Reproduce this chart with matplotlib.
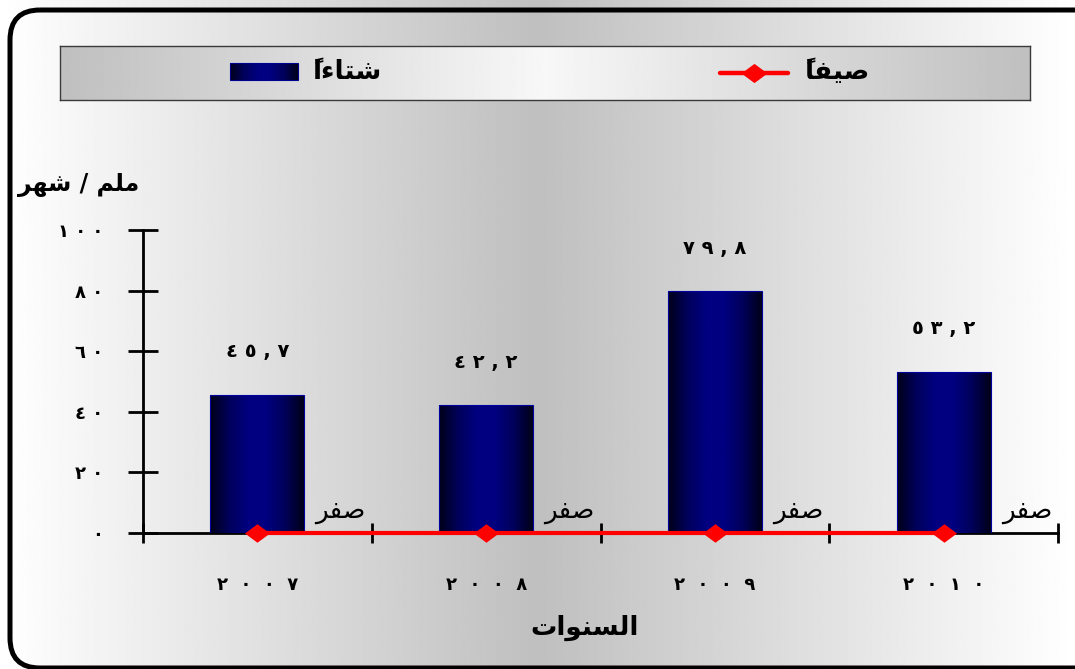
import numpy as np
import matplotlib
matplotlib.use("Agg")
import matplotlib.pyplot as plt
from matplotlib.patches import Rectangle, PathPatch
from matplotlib.path import Path
from matplotlib.colors import LinearSegmentedColormap

# ---------------- data ----------------
# Arabic words are written in visual order with Arabic presentation forms
years = ["٢٠٠٧", "٢٠٠٨", "٢٠٠٩", "٢٠١٠"]
winter = [45.7, 42.2, 79.8, 53.2]
summer = [0, 0, 0, 0]
winter_labels = ["٤٥,٧", "٤٢,٢", "٧٩,٨", "٥٣,٢"]
summer_labels = ["\uFEAE\uFED4\uFEBB"] * 4          # صفر
yticks = [0, 20, 40, 60, 80, 100]
ytick_labels = ["٠", "٢٠", "٤٠", "٦٠", "٨٠", "١٠٠"]
winter_name = "\u064B\uFE8D\uFE80\uFE8E\uFE98\uFEB7"   # شتاءاً
summer_name = "\u064B\uFE8E\uFED4\uFEF4\uFEBB"         # صيفاً
ylabel_text = "\uFEAE\uFEEC\uFEB7 / \uFEE2\uFEE0\uFEE3"  # ملم / شهر
xlabel_text = "\uFE95\uFE8D\uFEEE\uFEE8\uFEB4\uFEDF\uFE8D"  # السنوات

plt.rcParams['font.family'] = ['DejaVu Sans']

def spaced(s, sep=" "):
    return sep.join(list(s))

W, H = 1075, 669
fig = plt.figure(figsize=(W / 100, H / 100), dpi=100)

def px_axes(x0, y0, x1, y1, **kw):
    return fig.add_axes([x0 / W, 1 - y1 / H, (x1 - x0) / W, (y1 - y0) / H], **kw)

# ---------------- background gradient (pixel coordinates) ----------------
bg = fig.add_axes([0, 0, 1, 1], zorder=-10)
xs = np.linspace(0, 1, 600)
g = 1 - np.abs(xs - 0.5) * 2          # 0 at edges, 1 at centre
vals = 1.0 - 0.25 * g
bg.imshow(np.tile(vals, (2, 1)), cmap="gray", vmin=0, vmax=1, aspect="auto",
          extent=(0, W, H, 0))
bg.set_xlim(0, W); bg.set_ylim(H, 0)
bg.axis("off")

# rounded frame, running off the right edge of the picture
R = 30
x0f, y0f, x1f, y1f = 10, 10, 1200, 668
frame_path = Path([(x0f + R, y0f), (x1f - R, y0f), (x1f, y0f), (x1f, y0f + R),
                   (x1f, y1f - R), (x1f, y1f), (x1f - R, y1f), (x0f + R, y1f),
                   (x0f, y1f), (x0f, y1f - R), (x0f, y0f + R), (x0f, y0f),
                   (x0f + R, y0f)],
                  [Path.MOVETO, Path.LINETO, Path.CURVE3, Path.CURVE3, Path.LINETO,
                   Path.CURVE3, Path.CURVE3, Path.LINETO, Path.CURVE3, Path.CURVE3,
                   Path.LINETO, Path.CURVE3, Path.CURVE3])
bg.add_patch(PathPatch(frame_path, facecolor="none", edgecolor="black", lw=3.6,
                       zorder=20))

# ---------------- legend ----------------
lg = px_axes(60, 46, 1030, 100, zorder=5)
lvals = 0.75 + 0.22 * (1 - np.abs(np.linspace(0, 1, 600) - 0.5) * 2)
lg.imshow(np.tile(lvals, (2, 1)), cmap="gray", vmin=0, vmax=1, aspect="auto",
          extent=(60, 1030, 100, 46))
lg.set_xticks([]); lg.set_yticks([])
for sp in lg.spines.values():
    sp.set_color("#3a3a3a"); sp.set_linewidth(1.0)

bar_cmap = LinearSegmentedColormap.from_list(
    "navy", ["#000018", "#00005a", "#000080", "#000080", "#00005a", "#000018"])
grad = np.linspace(0, 1, 256).reshape(1, -1)

sw = Rectangle((230, 63), 68, 17, facecolor="none", edgecolor="#000090", lw=0.8)
lg.add_patch(sw)
im = lg.imshow(grad, cmap=bar_cmap, aspect="auto", extent=(230, 298, 80, 63))
im.set_clip_path(sw)
lg.text(313, 72, winter_name, fontsize=19, fontweight="bold", va="center", ha="left")

diamond = Path([(-1.35, 0), (0, 1), (1.35, 0), (0, -1), (-1.35, 0)],
               [Path.MOVETO, Path.LINETO, Path.LINETO, Path.LINETO, Path.CLOSEPOLY])
lg.plot([720, 788], [73, 73], color="#ff0000", lw=3.2, solid_capstyle="round")
lg.plot([754], [73], marker=diamond, markersize=17, color="#ff0000", lw=0)
lg.text(805, 72, summer_name, fontsize=19, fontweight="bold", va="center", ha="left")
lg.set_xlim(60, 1030); lg.set_ylim(100, 46)

# ---------------- main axes ----------------
ax = px_axes(143, 230, 1058, 533, zorder=2)
ax.patch.set_alpha(0)
x = np.arange(len(years))

bars = ax.bar(x, winter, width=0.41, color="none", edgecolor="#0000a0", linewidth=0.8,
              zorder=3)
for b in bars:
    bx, by = b.get_x(), b.get_y()
    bw, bh = b.get_width(), b.get_height()
    im = ax.imshow(grad, cmap=bar_cmap, aspect="auto",
                   extent=(bx, bx + bw, by, by + bh), zorder=2.9)
    im.set_clip_path(b)

for i, (v, lab) in enumerate(zip(winter, winter_labels)):
    ax.annotate(spaced(lab), xy=(i, v), xytext=(0, 31), textcoords="offset points",
                ha="center", va="center", fontsize=14, fontweight="bold")

ax.plot(x, summer, color="#ff0000", lw=3.0, marker=diamond, markersize=18,
        markeredgewidth=0, clip_on=False, zorder=5)
for i, (v, lab) in enumerate(zip(summer, summer_labels)):
    ax.annotate(lab, xy=(i, v), xytext=(60, 16), textcoords="offset points",
                ha="center", va="center", fontsize=19)

ax.set_xlim(-0.5, len(years) - 0.5)
ax.set_ylim(0, 100)

for s in ("top", "right"):
    ax.spines[s].set_visible(False)
for s in ("left", "bottom"):
    ax.spines[s].set_linewidth(2.0)
    ax.spines[s].set_color("black")

ax.set_yticks(yticks)
ax.set_yticklabels([spaced(t) for t in ytick_labels], fontsize=13, fontweight="bold")
ax.tick_params(axis="y", direction="inout", length=21.6, width=2.0, pad=18)

ax.set_xticks(np.arange(len(years) + 1) - 0.5)
ax.set_xticklabels([])
ax.tick_params(axis="x", which="major", direction="inout", length=14.4, width=2.0)
ax.set_xticks(x, minor=True)
ax.set_xticklabels([spaced(y, "  ") for y in years], minor=True, fontsize=13,
                   fontweight="bold")
ax.tick_params(axis="x", which="minor", length=0, pad=31)

fig.text(585 / W, 1 - 628 / H, xlabel_text, fontsize=19, fontweight="bold",
         ha="center", va="center")
fig.text(79 / W, 1 - 185 / H, ylabel_text, fontsize=17, fontweight="bold",
         ha="center", va="center")

fig.savefig("out.png", dpi=100)
